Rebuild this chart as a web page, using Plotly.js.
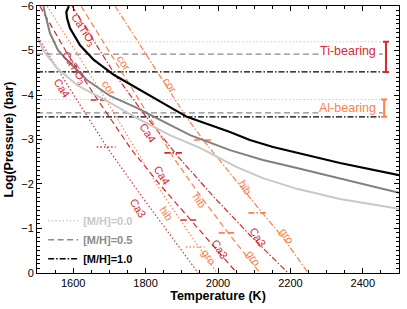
<!DOCTYPE html>
<html><head><meta charset="utf-8">
<script src="https://cdn.plot.ly/plotly-3.0.1.min.js"></script>
<style>html,body{margin:0;padding:0;background:#fff;}#chart{width:407px;height:309px;}</style>
</head><body><div id="chart"></div>
<script>
// ---- P-T profiles (Temperature K, log pressure bar) ----
const pt00_T = [1500, 1517, 1555, 1611, 1688, 1776, 1867, 1950, 2052, 2124, 2218, 2337, 2500];
const pt00_P = [-5.33, -5.01, -4.61, -4.22, -3.89, -3.48, -3.10, -2.81, -2.38, -2.13, -1.89, -1.66, -1.44];
const pt05_T = [1518, 1522, 1536, 1558, 1591, 1638, 1702, 1776, 1840, 1923, 2033, 2124, 2218, 2337, 2500];
const pt05_P = [-6.0, -5.84, -5.39, -5.01, -4.72, -4.34, -3.98, -3.71, -3.44, -3.10, -2.76, -2.54, -2.36, -2.13, -1.80];
const pt10_T = [1588, 1581, 1583, 1591, 1619, 1657, 1713, 1776, 1831, 1914, 2033, 2088, 2152, 2218, 2337, 2500];
const pt10_P = [-6.0, -5.87, -5.73, -5.51, -5.12, -4.79, -4.45, -4.16, -3.89, -3.51, -3.17, -2.99, -2.83, -2.70, -2.47, -2.20];

// ---- Ti-bearing condensation curves (CaTiO3 -> Ca4Ti3O10 -> Ca3Ti2O7) ----
const ti00_T = [1453, 1511, 1610, 1693, 1776, 1945];
const ti00_P = [-6.0, -5.19, -3.89, -2.83, -1.87, 0];
const ti05_T = [1508, 1586, 1668, 1762, 1840, 1928, 2052];
const ti05_P = [-6.0, -4.90, -3.89, -2.76, -1.98, -1.15, 0];
const ti10_T = [1597, 1713, 1798, 1890, 1986, 2088, 2193];
const ti10_P = [-6.0, -4.49, -3.55, -2.61, -1.73, -0.85, 0];

// ---- Al-bearing condensation curves (cor -> hib -> gro) ----
const al00_T = [1528, 1613, 1691, 1765, 1840, 1920, 1997];
const al00_P = [-6.0, -4.90, -3.89, -2.88, -1.87, -0.90, 0];
const al05_T = [1622, 1718, 1804, 1878, 1953, 2028, 2116];
const al05_P = [-6.0, -4.72, -3.60, -2.58, -1.71, -0.90, 0];
const al10_T = [1716, 1776, 1845, 1912, 1961, 2066, 2122, 2180, 2249];
const al10_P = [-6.0, -5.24, -4.34, -3.51, -2.97, -1.91, -1.35, -0.79, 0];

// ---- cloud-base levels for [M/H] = 0.0, 0.5, 1.0 ----
const metals = [0.0, 0.5, 1.0];
const tiBase = [-5.2, -4.92, -4.52];
const alBase = [-3.9, -3.6, -3.51];
const baseEndT = 2455;
const tiBarT = 2464;
const alBarT = 2459;

// ---- transition marks on the curves ----
const tiMarkT = [1691, 1674, 1923, 1878];
const tiMarkP = [-2.83, -3.89, -1.19, -2.70];
const tiMarkMet = [0.0, 0.5, 0.5, 1.0];
const alMarkT = [1937, 2028, 1959, 2110];
const alMarkP = [-0.58, -0.90, -2.99, -1.35];
const alMarkMet = [0.0, 0.5, 1.0, 1.0];

// ---- curve labels ----
const labelText = ['CaTiO<sub>3</sub>', 'CaTiO<sub>3</sub>', 'Ca4', 'Ca4', 'Ca4', 'Ca3', 'Ca3', 'Ca3',
                   'cor', 'cor', 'cor', 'hib', 'hib', 'hib', 'gro', 'gro', 'gro'];
const labelT = [1627, 1602, 1569, 1807, 1845, 1779, 2005, 2110, 1740, 1699, 1867, 1859, 1950, 2075, 1975, 2099, 2191];
const labelP = [-5.46, -4.61, -4.16, -3.15, -2.20, -1.46, -0.54, -0.81, -4.72, -4.16, -4.22, -1.33, -1.62, -1.93, -0.36, -0.34, -0.83];
const labelGroup = ['ti','ti','ti','ti','ti','ti','ti','ti','al','al','al','al','al','al','al','al','al'];

const legendNames = ['[M/H]=0.0', '[M/H]=0.5', '[M/H]=1.0'];
const yTicks = [-6, -5, -4, -3, -2, -1, 0];

// ---- styles ----
const RED = '#d8282f', ORANGE = '#ff7f4a';
const greyFor = {0: '#c8c8c8', 0.5: '#8a8a8a', 1: '#000000'};
const dashFor = {0: '1.4px,2.2px', 0.5: '6px,3.5px', 1: '6px,2px,1.5px,2px'};
const markHalf = 26;

const traces = [];
function line(x, y, color, dash, width) {
  traces.push({x: x, y: y, mode: 'lines', line: {color: color, dash: dash, width: width},
               showlegend: false, hoverinfo: 'skip'});
}
metals.forEach((m, i) => {
  line([1500, baseEndT], [tiBase[i], tiBase[i]], greyFor[m], dashFor[m], 1.2);
  line([1500, baseEndT], [alBase[i], alBase[i]], greyFor[m], dashFor[m], 1.2);
});
line(ti00_T, ti00_P, RED, dashFor[0], 1.2);
line(ti05_T, ti05_P, RED, dashFor[0.5], 1.2);
line(ti10_T, ti10_P, RED, dashFor[1], 1.2);
line(al00_T, al00_P, ORANGE, dashFor[0], 1.2);
line(al05_T, al05_P, ORANGE, dashFor[0.5], 1.2);
line(al10_T, al10_P, ORANGE, dashFor[1], 1.2);
tiMarkT.forEach((t, i) => line([t - markHalf, t + markHalf], [tiMarkP[i], tiMarkP[i]], RED, dashFor[tiMarkMet[i]], 1.6));
alMarkT.forEach((t, i) => line([t - markHalf, t + markHalf], [alMarkP[i], alMarkP[i]], ORANGE, dashFor[alMarkMet[i]], 1.6));
line(pt00_T, pt00_P, '#c8c8c8', 'solid', 2);
line(pt05_T, pt05_P, '#808080', 'solid', 2);
line(pt10_T, pt10_P, '#000000', 'solid', 2.2);
function bar(t, levels, color) {
  const lo = Math.min(...levels), hi = Math.max(...levels);
  traces.push({x: [t], y: [(lo + hi) / 2], mode: 'markers', marker: {size: 1, color: 'rgba(0,0,0,0)'},
    error_y: {type: 'data', symmetric: true, array: [(hi - lo) / 2], color: color, thickness: 2, width: 3},
    showlegend: false, hoverinfo: 'skip'});
}
bar(tiBarT, tiBase, RED);
bar(alBarT, alBase, ORANGE);
metals.forEach((m, i) => {
  traces.push({x: [null], y: [null], mode: 'lines', line: {color: greyFor[m], dash: dashFor[m], width: 1.5},
    name: '<b><span style="color:' + greyFor[m] + '">' + legendNames[i] + '</span></b>', showlegend: true});
});

const annotations = labelText.map((t, i) => ({
  x: labelT[i], y: labelP[i], xref: 'x', yref: 'y', text: t, showarrow: false, textangle: 57,
  font: {size: 11, color: labelGroup[i] === 'ti' ? RED : ORANGE}, xanchor: 'center', yanchor: 'middle'
}));
annotations.push({x: 2440, y: -5.0, xref: 'x', yref: 'y', text: 'Ti-bearing', showarrow: false,
  xanchor: 'right', yanchor: 'middle', font: {size: 12.5, color: RED}, bgcolor: '#ffffff', borderpad: 0});
annotations.push({x: 2440, y: -3.71, xref: 'x', yref: 'y', text: 'Al-bearing', showarrow: false,
  xanchor: 'right', yanchor: 'middle', font: {size: 12.5, color: ORANGE}, bgcolor: '#ffffff', borderpad: 0});

const axisCommon = {showline: true, linecolor: '#000', linewidth: 1, mirror: 'ticks', ticks: 'inside',
  tickcolor: '#000', tickwidth: 1, showgrid: false, zeroline: false, tickfont: {size: 11, color: '#000'}};

const layout = {
  width: 407, height: 309,
  margin: {l: 37, r: 8, t: 6, b: 36},
  paper_bgcolor: '#ffffff', plot_bgcolor: '#ffffff',
  font: {family: 'Liberation Sans, Arial, Helvetica, sans-serif', size: 11, color: '#000'},
  showlegend: true,
  legend: {x: 0.017, y: 0.25, xanchor: 'left', yanchor: 'top', bgcolor: 'rgba(0,0,0,0)',
           font: {size: 11}, itemwidth: 30, tracegroupgap: 0},
  xaxis: Object.assign({}, axisCommon, {range: [1500, 2500], tick0: 1600, dtick: 200, ticklen: 5,
    minor: {tick0: 1500, dtick: 50, ticks: 'inside', ticklen: 3, tickcolor: '#000', showgrid: false},
    title: {text: '<b>Temperature (K)</b>', font: {size: 12.5}, standoff: 3}}),
  yaxis: Object.assign({}, axisCommon, {range: [0.004, -6.004], tickmode: 'array', tickvals: yTicks, ticklen: 5,
    minor: {dtick: 0.1, ticks: 'inside', ticklen: 3, tickcolor: '#000', showgrid: false},
    title: {text: '<b>Log(Pressure) (bar)</b>', font: {size: 12.5}, standoff: 4}}),
  annotations: annotations
};

Plotly.newPlot('chart', traces, layout, {staticPlot: true, displayModeBar: false});
</script>
</body></html>
